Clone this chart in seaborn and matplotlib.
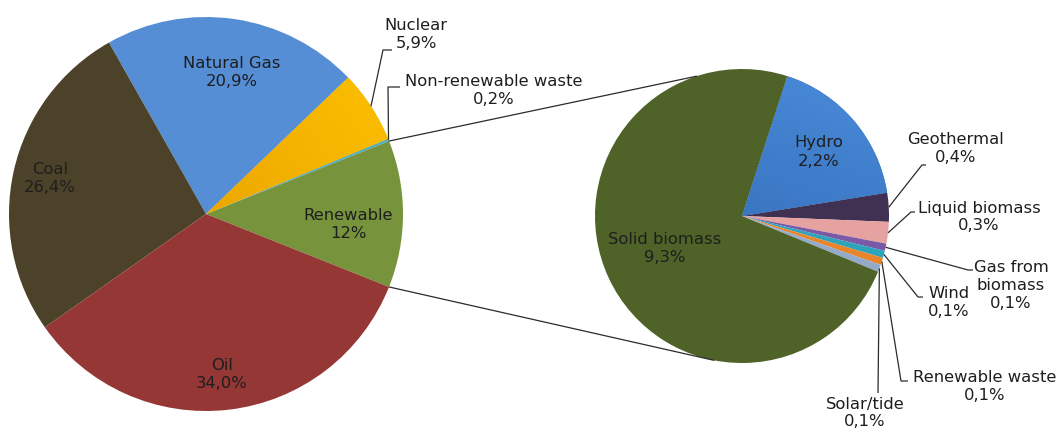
import numpy as np
import matplotlib
matplotlib.use("Agg")
import matplotlib.pyplot as plt
import seaborn as sns
from matplotlib.colors import LinearSegmentedColormap

# ---------------- data ----------------
main_labels = ["Renewable", "Non-renewable waste", "Nuclear", "Natural Gas", "Coal", "Oil"]
main_values = [12.0, 0.2, 5.9, 20.9, 26.4, 34.0]
main_text = ["12%", "0,2%", "5,9%", "20,9%", "26,4%", "34,0%"]

sub_labels = ["Hydro", "Geothermal", "Liquid biomass", "Gas from\nbiomass", "Wind",
              "Renewable waste", "Solar/tide", "Solid biomass"]
sub_values = [2.2, 0.4, 0.3, 0.1, 0.1, 0.1, 0.1, 9.3]
sub_text = ["2,2%", "0,4%", "0,3%", "0,1%", "0,1%", "0,1%", "0,1%", "9,3%"]

# ---------------- style ----------------
sns.set_theme(style="white")
plt.rcParams["font.family"] = ["DejaVu Sans"]

main_colors = ["#77933C", "#4BACC6", "#F2B400", "#558ED5", "#4B4229", "#953735"]
sub_colors = ["#3A74C2", "#403152", "#E6A2A0", "#7A5AA6", "#2EA3BC",
              "#E8852B", "#93AACB", "#4F6228"]

W, H = 1062, 434
fig = plt.figure(figsize=(W / 100, H / 100), dpi=100)
ax = fig.add_axes([0, 0, 1, 1])
ax.set_xlim(0, W)
ax.set_ylim(0, H)
ax.set_aspect("equal")
ax.axis("off")


def P(x, y):
    """pixel (top-left origin) -> data coords"""
    return (x, H - y)


main_c, main_r = P(206, 214), 197
sub_c, sub_r = P(742, 216), 147

start_main = -0.5 * 360 * main_values[0] / sum(main_values)
w_main, _ = ax.pie(main_values, colors=main_colors, startangle=start_main,
                   counterclock=True, center=main_c, radius=main_r,
                   wedgeprops=dict(linewidth=0), frame=True)
w_sub, _ = ax.pie(sub_values, colors=sub_colors, startangle=72,
                  counterclock=False, center=sub_c, radius=sub_r,
                  wedgeprops=dict(linewidth=0), frame=True)
ax.set_xlim(0, W)
ax.set_ylim(0, H)
ax.axis("off")


def gradient(wedge, c_from, c_to, angle_deg):
    x0, x1 = wedge.center[0] - wedge.r, wedge.center[0] + wedge.r
    y0, y1 = wedge.center[1] - wedge.r, wedge.center[1] + wedge.r
    n = 200
    xx, yy = np.meshgrid(np.linspace(0, 1, n), np.linspace(0, 1, n))
    a = np.deg2rad(angle_deg)
    g = (xx - 0.5) * np.cos(a) + (yy - 0.5) * np.sin(a)
    g = (g - g.min()) / (g.max() - g.min())
    cmap = LinearSegmentedColormap.from_list("g", [c_from, c_to])
    im = ax.imshow(g, cmap=cmap, extent=(x0, x1, y0, y1), origin="lower",
                   zorder=wedge.get_zorder() + 0.1, interpolation="bilinear")
    im.set_clip_path(wedge)


gradient(w_main[2], "#D98A00", "#FFC400", 35)
gradient(w_sub[0], "#2A5FAA", "#4A8CDA", 70)


def edge_point(w, frac=1.0, ang=None):
    if ang is None:
        ang = 0.5 * (w.theta1 + w.theta2)
    a = np.deg2rad(ang)
    return (w.center[0] + frac * w.r * np.cos(a), w.center[1] + frac * w.r * np.sin(a))


txt_color = "#1E1E1E"
line_color = "#2B2B2B"
fs = 11.8

# labels inside pies: (index, pixel centre)
main_inside = {0: (348, 224), 3: (232, 73), 4: (50, 178), 5: (222, 374)}
for i, (x, y) in main_inside.items():
    ax.text(*P(x, y), f"{main_labels[i]}\n{main_text[i]}", ha="center", va="center",
            fontsize=fs, color=txt_color, zorder=5, linespacing=1.25)

sub_inside = {0: (819, 152), 7: (665, 248)}
for i, (x, y) in sub_inside.items():
    ax.text(*P(x, y), f"{sub_labels[i]}\n{sub_text[i]}", ha="center", va="center",
            fontsize=fs, color=txt_color, zorder=5, linespacing=1.25)

# outside labels with leader lines: index -> (text centre, elbow, end)
main_out = {
    2: ((416, 35), (383, 50), (392, 50)),
    1: ((494, 91), (388, 87), (400, 87)),
}
sub_out = {
    1: ((956, 148), (922, 165), (926, 165)),
    2: ((979, 217), (911, 212), (915, 212)),
    3: ((1011, 285), (968, 270), (973, 270)),
    4: ((949, 302), (918, 297), (923, 297)),
    5: ((985, 386), (901, 381), (908, 381)),
    6: ((865, 413), (878, 393), (878, 393)),
}


def outside(wedges, labels, texts, spec):
    for i, (tpos, elbow, end) in spec.items():
        ax.text(*P(*tpos), f"{labels[i]}\n{texts[i]}", ha="center", va="center",
                fontsize=fs, color=txt_color, zorder=5, linespacing=1.25)
        a = edge_point(wedges[i])
        e = P(*elbow)
        f = P(*end)
        ax.plot([a[0], e[0], f[0]], [a[1], e[1], f[1]], color=line_color,
                lw=0.9, zorder=6, solid_capstyle="butt")


outside(w_main, main_labels, main_text, main_out)
outside(w_sub, sub_labels, sub_text, sub_out)

# connector lines between the renewable slice and the secondary pie
ren = w_main[0]
p_top = edge_point(ren, ang=ren.theta2)
p_bot = edge_point(ren, ang=ren.theta1)
q_top = edge_point(w_sub[-1], ang=108)
q_bot = edge_point(w_sub[-1], ang=-101)
ax.plot([p_top[0], q_top[0]], [p_top[1], q_top[1]], color=line_color, lw=0.9, zorder=1)
ax.plot([p_bot[0], q_bot[0]], [p_bot[1], q_bot[1]], color=line_color, lw=0.9, zorder=1)

fig.savefig("out.png", dpi=100, facecolor="white")
